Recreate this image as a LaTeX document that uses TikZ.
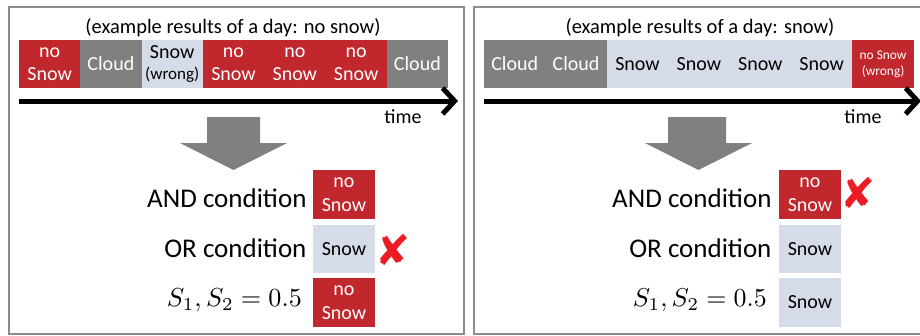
\documentclass[tikz,border=0pt]{standalone}
\usepackage{fontspec}
\setmainfont{Carlito}
\newfontfamily\symfont{DejaVu Sans}
\usetikzlibrary{arrows.meta}
\definecolor{cred}{RGB}{192,40,45}
\definecolor{cgray}{RGB}{128,128,128}
\definecolor{cblue}{RGB}{214,220,231}
\definecolor{cframe}{RGB}{140,140,140}
\definecolor{cross}{RGB}{236,28,36}
\begin{document}
\begin{tikzpicture}[x=1pt,y=-1pt,
  cell/.style={minimum width=61.3pt,minimum height=48pt,inner sep=0pt,align=center,font=\fontsize{20}{23.5}\selectfont},
  redcell/.style={cell,fill=cred,text=white},
  graycell/.style={cell,fill=cgray,text=white},
  bluecell/.style={cell,fill=cblue,text=black},
  frame/.style={draw=cframe,line width=2pt},
  timeline/.style={line width=5pt,-{Straight Barb[length=12pt,width=26pt]}},
  bigarrow/.style={fill=cgray,draw=none},
  title/.style={font=\fontsize{20.5}{22}\selectfont},
  timelabel/.style={font=\fontsize{20}{22}\selectfont},
  cond/.style={anchor=east,font=\fontsize{27}{30}\selectfont},
  mathcond/.style={anchor=east,inner sep=0pt},
  res/.style={minimum width=62pt,minimum height=48.5pt,inner sep=0pt,align=center,font=\fontsize{20}{23.5}\selectfont},
  resred/.style={res,fill=cred,text=white},
  resblue/.style={res,fill=cblue,text=black},
  xmark/.style={text=cross,font=\symfont\fontsize{42}{42}\selectfont}
]
\useasboundingbox (0,0) rectangle (920,335);
% frames
\draw[frame] (9,7) rectangle (464,334);
\draw[frame] (474,7) rectangle (930,334);

% ---------- left panel ----------
\node[title] (lt) at (233,28) {(example results of a day: no snow)};
\node[redcell]  (l1) at (49.6,64)  {no\\Snow};
\node[graycell] (l2) at (110.9,64) {Cloud};
\node[bluecell] (l3) at (172.2,64) {Snow\\[-3pt]{\fontsize{17}{19}\selectfont(wrong)}};
\node[redcell]  (l4) at (233.5,64) {no\\Snow};
\node[redcell]  (l5) at (294.8,64) {no\\Snow};
\node[redcell]  (l6) at (356.1,64) {no\\Snow};
\node[graycell] (l7) at (417.4,64) {Cloud};
\coordinate (la) at (19,101);
\coordinate (lb) at (458,101);
\draw[timeline] (la) -- (lb);
\node[timelabel] (ltime) at (403,117) {time};
\fill[bigarrow] (207,117) -- (260,117) -- (260,143) -- (287,143) -- (233.5,170) -- (180,143) -- (207,143) -- cycle;
\node[resred]  (lr1) at (344,194.5) {no\\Snow};
\node[resblue] (lr2) at (344,249)   {Snow};
\node[resred]  (lr3) at (344,302.5) {no\\Snow};
\node[cond] (lc1) at (310,198) {AND condition};
\node[cond] (lc2) at (310,248) {OR condition};
\node[mathcond] (lc3) at (302,300) {\resizebox{135pt}{!}{$S_1, S_2 = 0.5$}};
\node[xmark] (lx) at (393,250) {✘};

% ---------- right panel ----------
\node[title] (rt) at (700,28) {(example results of a day: snow)};
\node[graycell] (r1) at (514.7,64) {Cloud};
\node[graycell] (r2) at (576.1,64) {Cloud};
\node[bluecell] (r3) at (637.5,64) {Snow};
\node[bluecell] (r4) at (698.9,64) {Snow};
\node[bluecell] (r5) at (760.3,64) {Snow};
\node[bluecell] (r6) at (821.7,64) {Snow};
\node[redcell,font=\fontsize{13.4}{16}\selectfont] (r7) at (883.1,64) {no Snow\\(wrong)};
\coordinate (ra) at (484,101);
\coordinate (rb) at (921,101);
\draw[timeline] (ra) -- (rb);
\node[timelabel] (rtime) at (863,117) {time};
\fill[bigarrow] (668,117) -- (726,117) -- (726,143) -- (752,143) -- (698.5,170) -- (645,143) -- (668,143) -- cycle;
\node[resred]  (rr1) at (810,194.5) {no\\Snow};
\node[resblue] (rr2) at (810,249)   {Snow};
\node[resblue] (rr3) at (810,302.5) {Snow};
\node[cond] (rc1) at (775,198) {AND condition};
\node[cond] (rc2) at (775,248) {OR condition};
\node[mathcond] (rc3) at (767,300) {\resizebox{134pt}{!}{$S_1, S_2 = 0.5$}};
\node[xmark] (rx) at (858,193) {✘};
\end{tikzpicture}
\end{document}
